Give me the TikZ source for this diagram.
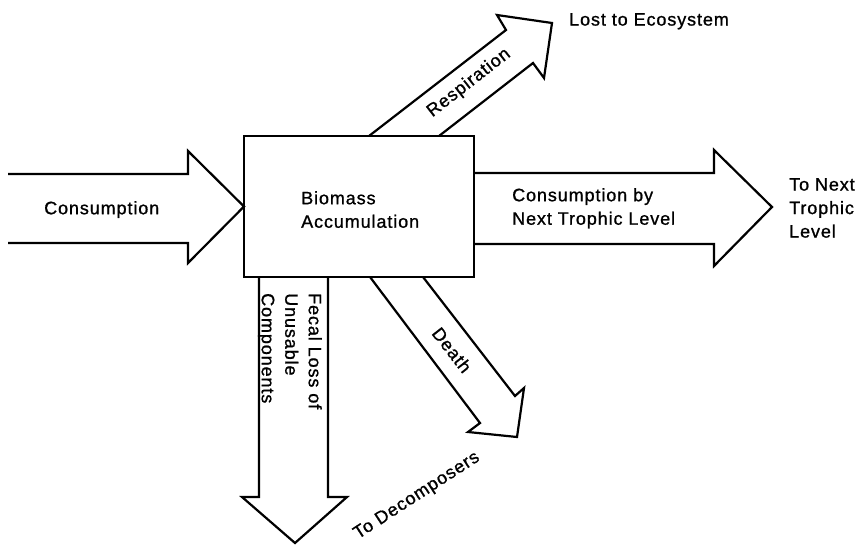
\documentclass[tikz,border=0pt]{standalone}
\usepackage{fontspec}
\setmainfont{Liberation Sans}[LetterSpace=5,FakeBold=1]
\tikzset{
  flow/.style={draw=black, line width=2.2pt, line join=miter, miter limit=10},
  lbl/.style={font=\fontsize{18}{23.5}\selectfont, inner sep=0pt, align=left},
  boxstyle/.style={draw=black, line width=2.2pt, minimum width=230pt, minimum height=141pt, inner sep=0pt, outer sep=0pt},
}
\begin{document}
\begin{tikzpicture}[x=1pt,y=-1pt]
\useasboundingbox (0,0) rectangle (857,544);
% central box
\node[boxstyle] (box) at (359,206.5) {};
% Consumption (input)
\draw[flow] (8,174) -- (188,174) -- (188,151) -- (box.west) -- (188,263) -- (188,243) -- (8,243);
% Consumption by next trophic level
\coordinate (nexttip) at (772,207);
\draw[flow] (box.east |- 0,173) -- (714,173) -- (714,150) -- (nexttip) -- (714,266) -- (714,244) -- (box.east |- 0,244);
% Respiration
\coordinate (resptip) at (552,23);
\draw[flow] (369,0 |- box.north) -- (506,30) -- (497,15) -- (resptip) -- (544,78) -- (533,63) -- (439,0 |- box.north);
% Fecal loss
\coordinate (fecaltip) at (295,543);
\draw[flow] (259,0 |- box.south) -- (259,497) -- (242,497) -- (fecaltip) -- (347,497) -- (328,497) -- (328,0 |- box.south);
% Death
\coordinate (deathtip) at (517,437);
\draw[flow] (370,0 |- box.south) -- (480,423) -- (468,432) -- (deathtip) -- (524,388) -- (515,396) -- (423,0 |- box.south);
% labels
\node[lbl, anchor=north west] (t1) at (301,191) {Biomass\\Accumulation};
\node[lbl, anchor=north west] (t2) at (44,201) {Consumption};
\node[lbl, anchor=north west] (t3) at (512,188) {Consumption by\\Next Trophic Level};
\node[lbl, anchor=north west] (t4) at (789,178) {To Next\\Trophic\\Level};
\node[lbl, anchor=north west] (t5) at (569,13) {Lost to Ecosystem};
\node[lbl, rotate=38] (t6) at (469,83) {Respiration};
\node[lbl, rotate=-52] (t7) at (452,350) {Death};
\node[lbl, rotate=33] (t8) at (417,496) {To Decomposers};
\node[lbl, rotate=-90, anchor=north west] (t9) at (322,293) {Fecal Loss of\\Unusable\\Components};
\end{tikzpicture}
\end{document}
